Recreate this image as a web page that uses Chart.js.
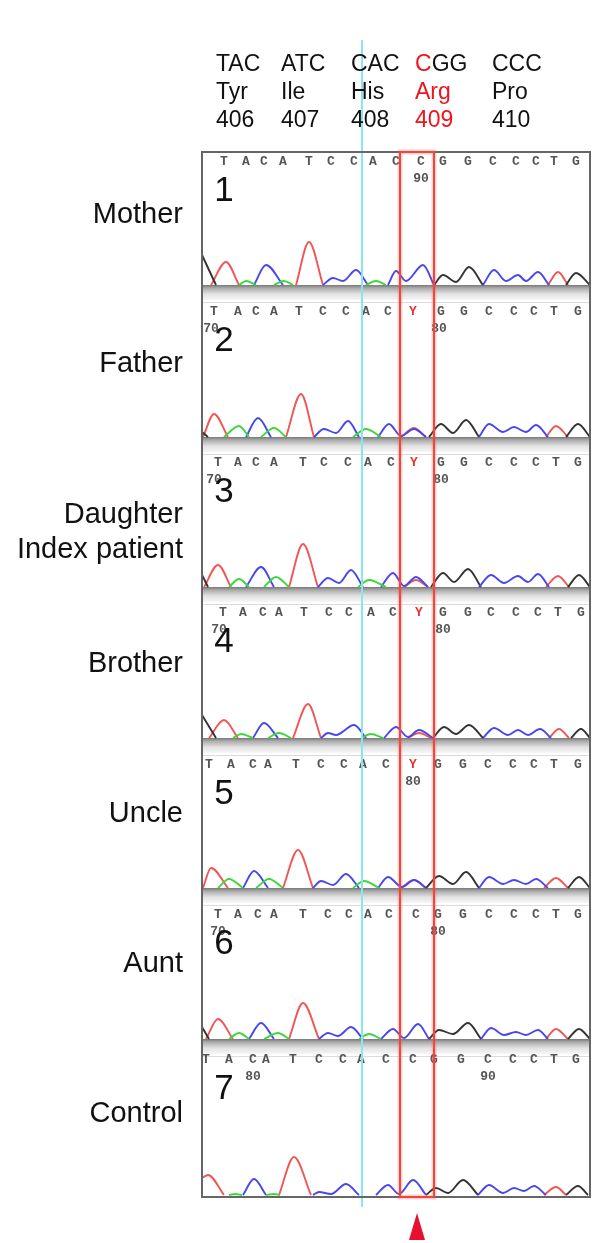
<!DOCTYPE html>
<html>
<head>
<meta charset="utf-8">
<script src="https://cdn.jsdelivr.net/npm/chart.js@4.4.0/dist/chart.umd.min.js"></script>
<style>
html, body { margin: 0; padding: 0; background: #fff; }
#wrap { position: relative; width: 600px; height: 1243px; overflow: hidden; font-family: "Liberation Sans", Arial, sans-serif; }
#chart { position: absolute; left: 0; top: 0; }
.hdr { position: absolute; top: 49px; font-size: 23px; line-height: 28px; color: #111; white-space: nowrap; }
.red { color: #f0141e; }
.who { position: absolute; right: 417px; font-size: 29px; line-height: 35px; text-align: right; color: #111; white-space: nowrap; }
</style>
</head>
<body>
<div id="wrap">
  <canvas id="chart" width="600" height="1243"></canvas>
  <div id="labels"></div>
</div>
<script>
// codons shown above the traces
var codons = ['TAC', 'ATC', 'CAC', 'CGG', 'CCC'];
var aminoAcids = ['Tyr', 'Ile', 'His', 'Arg', 'Pro'];
var codonNums = ['406', '407', '408', '409', '410'];
var mutCodon = 3;

var relatives = ['Mother', 'Father', 'Daughter\nIndex patient', 'Brother', 'Uncle', 'Aunt', 'Control'];

// base calls per panel and their scan positions
var calls = [
    'TACATCCACCGGCCCTG',
    'TACATCCACYGGCCCTG',
    'TACATCCACYGGCCCTG',
    'TACATCCACYGGCCCTG',
    'TACATCCACYGGCCCTG',
    'TACATCCACCGGCCCTG',
    'TACATCCACCGGCCCTG'
];
var callPos = [
    [22, 44, 62, 81, 107, 129, 152, 171, 194, 219, 241, 266, 291, 314, 334, 352, 374],
    [12, 36, 54, 72, 97, 121, 144, 164, 186, 211, 239, 262, 287, 312, 332, 352, 376],
    [16, 36, 54, 72, 101, 122, 146, 166, 189, 212, 239, 262, 287, 312, 334, 354, 376],
    [21, 41, 61, 77, 102, 127, 147, 169, 191, 217, 241, 266, 289, 314, 336, 356, 379],
    [7, 29, 51, 66, 94, 119, 142, 161, 184, 211, 236, 261, 286, 311, 332, 352, 376],
    [16, 36, 56, 72, 101, 126, 147, 166, 187, 214, 236, 261, 287, 312, 334, 354, 376],
    [4, 27, 51, 64, 91, 117, 141, 159, 184, 211, 232, 259, 286, 311, 332, 352, 374]
];
// base numbering ticks per panel
var baseTicks = [
    [['90', 219]],
    [['70', 9], ['80', 237]],
    [['70', 12], ['80', 239]],
    [['70', 17], ['80', 241]],
    [['80', 211]],
    [['70', 16], ['80', 236]],
    [['80', 51], ['90', 286]]
];

// trace peaks [scan position, signal] per panel, split into segments
var peaksA = [
    [[[37, 0], [44, 4], [54, 0]], [[72, 0], [82, 4], [91, 0]], [[164, 0], [174, 4], [184, 0]]],
    [[[22, 0], [37, 11], [47, 0]], [[59, 0], [72, 9], [84, 0]], [[151, 0], [164, 8], [179, 0]]],
    [[[27, 0], [37, 8], [47, 0]], [[62, 0], [74, 10], [87, 0]], [[156, 0], [167, 7], [184, 0]]],
    [[[31, 0], [39, 4], [51, 0]], [[66, 0], [77, 5], [89, 0]], [[159, 0], [169, 4], [181, 0]]],
    [[[16, 0], [27, 9], [41, 0]], [[54, 0], [67, 9], [81, 0]], [[151, 0], [162, 7], [177, 0]]],
    [[[27, 0], [37, 6], [47, 0]], [[62, 0], [76, 6], [87, 0]], [[157, 0], [167, 5], [179, 0]]],
    [[[27, 0], [33, 1], [40, 0]], [[64, 0], [72, 1], [78, 0]]]
];
var peaksC = [
    [[[52, 0], [64, 20], [81, 0]], [[121, 0], [131, 7], [141, 4], [154, 15], [166, 0]], [[186, 0], [194, 14], [204, 4], [221, 20], [232, 0]], [[281, 0], [292, 15], [304, 4], [316, 10], [324, 4], [336, 13], [347, 0]]],
    [[[44, 0], [56, 19], [69, 0]], [[112, 0], [122, 8], [134, 4], [146, 16], [157, 0]], [[176, 0], [187, 13], [199, 1], [212, 8], [224, 0]], [[277, 0], [287, 13], [301, 5], [312, 10], [324, 5], [334, 12], [346, 0]]],
    [[[44, 0], [59, 20], [72, 0]], [[116, 0], [126, 9], [137, 4], [149, 17], [161, 0]], [[179, 0], [191, 14], [202, 1], [214, 10], [226, 0]], [[277, 0], [289, 12], [302, 4], [316, 11], [326, 5], [336, 13], [347, 0]]],
    [[[51, 0], [62, 15], [76, 0]], [[119, 0], [126, 5], [134, 3], [152, 13], [164, 0]], [[182, 0], [194, 11], [206, 1], [217, 8], [231, 0]], [[281, 0], [292, 10], [306, 3], [316, 8], [326, 3], [338, 9], [349, 0]]],
    [[[41, 0], [52, 17], [66, 0]], [[111, 0], [119, 7], [131, 3], [144, 14], [157, 0]], [[176, 0], [186, 11], [200, 1], [212, 8], [224, 0]], [[277, 0], [287, 11], [301, 4], [312, 8], [324, 4], [334, 9], [346, 0]]],
    [[[47, 0], [59, 16], [72, 0]], [[117, 0], [126, 6], [136, 3], [149, 12], [161, 0]], [[179, 0], [191, 10], [202, 1], [216, 15], [227, 0]], [[279, 0], [289, 11], [302, 4], [314, 7], [324, 4], [336, 9], [346, 0]]],
    [[[41, 0], [52, 16], [64, 0]], [[111, 0], [117, 3], [129, 1], [144, 11], [157, 0]], [[174, 0], [186, 10], [197, 1], [211, 15], [224, 0]], [[276, 0], [287, 10], [301, 2], [312, 7], [322, 4], [332, 9], [344, 0]]]
];
var peaksG = [
    [[[0, 30], [14, 0]], [[232, 0], [241, 10], [254, 3], [267, 18], [281, 0]], [[364, 0], [374, 12], [388, 0]]],
    [[[0, 5], [6, 0]], [[227, 0], [239, 13], [251, 4], [264, 17], [277, 0]], [[364, 0], [376, 13], [388, 0]]],
    [[[0, 12], [6, 0]], [[229, 0], [241, 14], [252, 5], [266, 18], [279, 0]], [[366, 0], [377, 12], [388, 0]]],
    [[[0, 23], [14, 0]], [[231, 0], [242, 11], [254, 4], [267, 13], [281, 0]], [[369, 0], [379, 9], [388, 0]]],
    [[[224, 0], [237, 12], [251, 4], [264, 16], [277, 0]], [[366, 0], [377, 11], [388, 0]]],
    [[[0, 12], [7, 0]], [[227, 0], [237, 9], [251, 5], [266, 16], [279, 0]], [[366, 0], [377, 10], [388, 0]]],
    [[[224, 0], [234, 7], [246, 2], [261, 15], [276, 0]], [[364, 0], [376, 9], [386, 0]]]
];
var peaksT = [
    [[[9, 0], [24, 23], [37, 0]], [[94, 0], [107, 43], [121, 0]], [[346, 0], [356, 13], [366, 0]]],
    [[[1, 0], [12, 23], [26, 0]], [[84, 0], [99, 43], [112, 0]], [[199, 0], [212, 9], [224, 0]], [[344, 0], [354, 11], [366, 0]]],
    [[[2, 0], [16, 22], [29, 0]], [[87, 0], [101, 43], [116, 0]], [[202, 0], [214, 7], [226, 0]], [[344, 0], [356, 11], [367, 0]]],
    [[[7, 0], [22, 18], [36, 0]], [[91, 0], [106, 34], [119, 0]], [[206, 0], [217, 5], [229, 0]], [[347, 0], [357, 9], [367, 0]]],
    [[[1, 0], [9, 20], [26, 0]], [[81, 0], [96, 38], [111, 0]], [[199, 0], [212, 8], [224, 0]], [[342, 0], [354, 10], [366, 0]]],
    [[[4, 0], [16, 20], [31, 0]], [[87, 0], [101, 36], [117, 0]], [[344, 0], [354, 10], [366, 0]]],
    [[[0, 17], [6, 20], [22, 0]], [[77, 0], [92, 38], [109, 0]], [[342, 0], [354, 8], [364, 0]]]
];

var markerPos = 160;        // cyan cursor
var boxFrom = 198, boxTo = 232; // codon 409 highlight

// panel layout
var panelH = [148, 152, 150, 151, 150, 151, 143];
var panelMin = [-15, -15, -15, -15, -15, -15, -2];
var letterOff = [10, 12, 11, 11, 12, 12, 6];
var labelMid = [213, 362, 531, 662, 812, 962, 1112];
var colLeft = [216, 281, 351, 415, 492];

var channels = [
    { peaks: peaksA, color: '#3bd83b' },
    { peaks: peaksC, color: '#4747ee' },
    { peaks: peaksG, color: '#333333' },
    { peaks: peaksT, color: '#f05656' }
];

// html labels
var holder = document.getElementById('labels');
codons.forEach(function (c, i) {
    var d = document.createElement('div');
    d.className = 'hdr';
    d.style.left = colLeft[i] + 'px';
    if (i === mutCodon) {
        d.innerHTML = '<span class="red">' + c[0] + '</span>' + c.slice(1) +
            '<br><span class="red">' + aminoAcids[i] + '</span><br><span class="red">' + codonNums[i] + '</span>';
    } else {
        d.innerHTML = c + '<br>' + aminoAcids[i] + '<br>' + codonNums[i];
    }
    holder.appendChild(d);
});
relatives.forEach(function (r, i) {
    var lines = r.split('\n');
    var d = document.createElement('div');
    d.className = 'who';
    d.style.top = (labelMid[i] - lines.length * 35 / 2) + 'px';
    d.innerHTML = lines.join('<br>');
    holder.appendChild(d);
});

// build datasets; stacked left axes are laid out bottom-up, so add them last panel first
var datasets = [];
var scales = {
    x: { type: 'linear', min: 0, max: 388, display: false }
};
for (var p = panelH.length - 1; p >= 0; p--) {
    scales['y' + p] = {
        type: 'linear',
        display: false,
        stack: 'panels',
        stackWeight: panelH[p],
        min: panelMin[p],
        max: panelMin[p] + panelH[p]
    };
}
panelH.forEach(function (h, p) {
    channels.forEach(function (ch) {
        var pts = [];
        ch.peaks[p].forEach(function (seg, s) {
            if (s > 0) pts.push([seg[0][0], null]);
            seg.forEach(function (pt) { pts.push(pt); });
        });
        datasets.push({
            data: pts,
            yAxisID: 'y' + p,
            xAxisID: 'x',
            borderColor: ch.color,
            borderWidth: 1.9,
            pointRadius: 0,
            fill: false,
            tension: 0.4,
            cubicInterpolationMode: 'monotone',
            spanGaps: false
        });
    });
});

var decor = {
    id: 'decor',
    beforeDatasetsDraw: function (chart) {
        var ctx = chart.ctx, area = chart.chartArea;
        ctx.save();
        ctx.fillStyle = '#fff';
        ctx.fillRect(area.left, area.top, area.width, area.height);
        for (var p = 0; p < panelH.length - 1; p++) {
            var sc = chart.scales['y' + p];
            var b = sc.getPixelForValue(0);
            var g = ctx.createLinearGradient(0, b, 0, b + 15);
            g.addColorStop(0, '#777');
            g.addColorStop(0.2, '#aaa');
            g.addColorStop(0.6, '#e2e2e2');
            g.addColorStop(1, '#f7f7f7');
            ctx.fillStyle = g;
            ctx.fillRect(area.left, b, area.width, 15);
            ctx.fillStyle = '#dcdcdc';
            ctx.fillRect(area.left, b + 17, area.width, 1);
        }
        ctx.restore();
    },
    afterDatasetsDraw: function (chart) {
        var ctx = chart.ctx, area = chart.chartArea, xs = chart.scales.x;
        ctx.save();
        // base calls, numbering and panel number
        for (var p = 0; p < panelH.length; p++) {
            var sc = chart.scales['y' + p];
            var rowY = sc.top + letterOff[p];
            ctx.textAlign = 'center';
            ctx.textBaseline = 'middle';
            ctx.font = 'bold 13px "Liberation Mono", monospace';
            for (var i = 0; i < calls[p].length; i++) {
                var ch = calls[p][i];
                ctx.fillStyle = ch === 'Y' ? '#e8302c' : '#555';
                ctx.fillText(ch, xs.getPixelForValue(callPos[p][i]), rowY);
            }
            ctx.font = 'bold 13px "Liberation Mono", monospace';
            ctx.fillStyle = '#555';
            baseTicks[p].forEach(function (t) {
                ctx.fillText(t[0], xs.getPixelForValue(t[1]), rowY + 17);
            });
            ctx.font = '35px "Liberation Sans", Arial, sans-serif';
            ctx.fillStyle = '#111';
            ctx.fillText(String(p + 1), xs.getPixelForValue(22), rowY + 29);
        }
        // cyan cursor
        var cx = xs.getPixelForValue(markerPos);
        ctx.strokeStyle = '#88e6ee';
        ctx.lineWidth = 2;
        ctx.beginPath();
        ctx.moveTo(cx, 40);
        ctx.lineTo(cx, area.bottom + 10);
        ctx.stroke();
        // frame
        ctx.strokeStyle = '#666';
        ctx.lineWidth = 2;
        ctx.strokeRect(area.left, area.top, area.width, area.height);
        // highlight box
        var x1 = xs.getPixelForValue(boxFrom), x2 = xs.getPixelForValue(boxTo);
        ctx.strokeStyle = 'rgba(240,80,70,0.25)';
        ctx.lineWidth = 5;
        ctx.strokeRect(x1, area.top, x2 - x1, area.height);
        ctx.strokeStyle = '#f2453e';
        ctx.lineWidth = 2;
        ctx.strokeRect(x1, area.top, x2 - x1, area.height);
        // arrow
        var ax = xs.getPixelForValue((boxFrom + boxTo) / 2);
        ctx.fillStyle = '#e8102e';
        ctx.beginPath();
        ctx.moveTo(ax, area.bottom + 16);
        ctx.lineTo(ax - 8, area.bottom + 43);
        ctx.lineTo(ax + 8, area.bottom + 43);
        ctx.closePath();
        ctx.fill();
        ctx.restore();
    }
};

new Chart(document.getElementById('chart'), {
    type: 'line',
    data: { datasets: datasets },
    options: {
        responsive: false,
        animation: false,
        devicePixelRatio: 1,
        layout: { padding: { left: 202, right: 10, top: 152, bottom: 46 } },
        plugins: { legend: { display: false }, tooltip: { enabled: false } },
        scales: scales
    },
    plugins: [decor]
});
</script>
</body>
</html>
